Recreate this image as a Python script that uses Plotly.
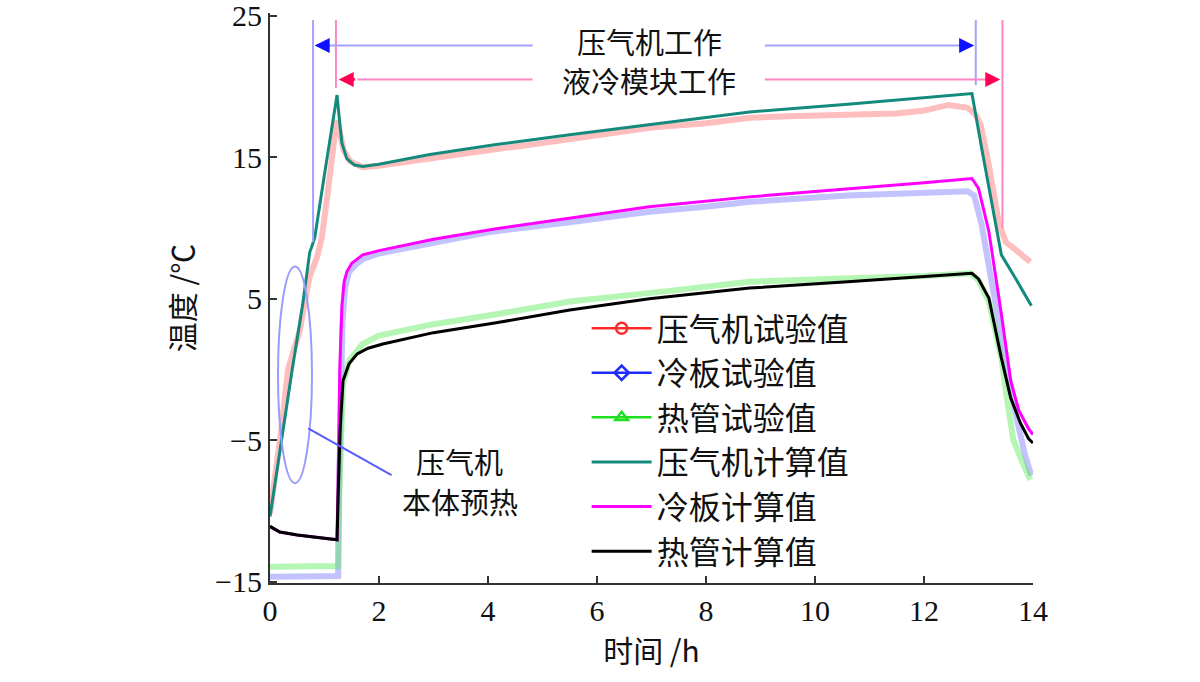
import plotly.graph_objects as go

# ---------------- data (time in h, temperature in degC) ----------------
comp_test_t = [0, 0.1, 0.2, 0.33, 0.45, 0.55, 0.65, 0.73, 0.86, 0.95, 1.06, 1.15, 1.22, 1.28, 1.35, 1.47, 1.7, 2.0, 3.0, 4.0, 5.0, 6.0, 7.0, 8.0, 8.8, 9.5, 10.6, 11.5, 12.0, 12.45, 12.8, 12.95, 13.04, 13.19, 13.37, 13.5, 13.7, 13.95]
comp_test_v = [-10.2, -7.5, -4.5, 0.0, 1.5, 2.8, 5.0, 6.6, 7.9, 9.3, 12.5, 15.5, 17.6, 16.8, 15.5, 14.7, 14.3, 14.4, 15.0, 15.5, 16.0, 16.6, 17.1, 17.4, 17.8, 17.9, 18.0, 18.1, 18.3, 18.7, 18.5, 18.0, 17.3, 14.45, 10.4, 9.0, 8.4, 7.6]

plate_test_t = [0, 0.6, 1.25, 1.27, 1.3, 1.33, 1.38, 1.45, 1.6, 1.7, 2.0, 3.0, 4.0, 5.5, 6.96, 8.0, 8.8, 10.6, 12.0, 12.8, 12.92, 13.06, 13.24, 13.46, 13.68, 13.85, 13.97]
plate_test_v = [-14.65, -14.65, -14.6, -8.0, -2.0, 3.3, 5.8, 6.9, 7.5, 7.8, 8.2, 9.0, 9.7, 10.4, 11.15, 11.5, 11.85, 12.3, 12.5, 12.6, 12.3, 10.2, 6.2, 1.5, -3.1, -6.0, -7.5]

pipe_test_t = [0, 0.6, 1.25, 1.27, 1.3, 1.34, 1.45, 1.6, 1.7, 2.0, 3.0, 4.15, 5.5, 7.2, 8.8, 10.6, 12.0, 12.85, 13.0, 13.19, 13.42, 13.5, 13.64, 13.8, 13.95]
pipe_test_v = [-13.95, -13.95, -13.9, -9.0, -4.0, -1.0, 0.6, 1.4, 1.8, 2.4, 3.2, 3.9, 4.8, 5.5, 6.2, 6.45, 6.6, 6.8, 6.3, 4.8, 0.8, -1.5, -5.0, -6.5, -7.8]

comp_calc_t = [0, 0.2, 0.4, 0.6, 0.73, 0.76, 0.82, 1.0, 1.15, 1.23, 1.27, 1.32, 1.41, 1.55, 1.7, 2.0, 2.93, 4.15, 5.5, 6.96, 8.8, 10.6, 12.0, 12.88, 13.06, 13.25, 13.42, 13.7, 13.97]
comp_calc_v = [-10.4, -5.2, -0.2, 4.6, 8.3, 8.6, 9.3, 13.8, 17.4, 19.4, 17.8, 16.0, 14.9, 14.45, 14.35, 14.5, 15.2, 15.9, 16.6, 17.3, 18.2, 18.75, 19.2, 19.5, 15.6, 11.5, 8.1, 6.3, 4.5]

plate_calc_t = [0, 0.18, 0.5, 0.73, 1.0, 1.23, 1.25, 1.28, 1.32, 1.36, 1.41, 1.5, 1.6, 1.7, 2.0, 3.0, 4.15, 5.5, 6.96, 8.8, 10.6, 12.0, 12.88, 13.0, 13.19, 13.42, 13.59, 13.74, 13.92, 14.0]
plate_calc_v = [-11.1, -11.5, -11.7, -11.8, -11.95, -12.05, -8.0, 0.0, 4.5, 6.2, 6.9, 7.5, 7.8, 8.1, 8.4, 9.2, 9.95, 10.7, 11.5, 12.2, 12.75, 13.2, 13.5, 12.8, 9.75, 3.9, -0.8, -2.9, -4.2, -4.6]

pipe_calc_t = [0, 0.18, 0.5, 0.73, 1.0, 1.23, 1.25, 1.29, 1.34, 1.45, 1.6, 1.8, 2.07, 3.0, 4.15, 5.5, 6.96, 8.8, 10.6, 12.0, 12.88, 13.0, 13.19, 13.42, 13.59, 13.77, 13.92, 14.0]
pipe_calc_v = [-11.1, -11.5, -11.7, -11.8, -11.95, -12.05, -9.0, -4.0, -0.8, 0.4, 1.1, 1.5, 1.8, 2.6, 3.3, 4.2, 5.0, 5.75, 6.2, 6.55, 6.8, 6.4, 5.05, 0.8, -2.0, -3.8, -4.9, -5.2]

names = ["压气机试验值", "冷板试验值", "热管试验值", "压气机计算值", "冷板计算值", "热管计算值"]
x_ticks = [0, 2, 4, 6, 8, 10, 12, 14]
y_ticks = [-15, -5, 5, 15, 25]

CJK = "Noto Sans CJK SC"
SERIF = "Liberation Serif"

fig = go.Figure()

# test data (faded bands)
for t, v, col in [(comp_test_t, comp_test_v, "rgba(255,110,110,0.45)"),
                  (plate_test_t, plate_test_v, "rgba(120,120,255,0.45)"),
                  (pipe_test_t, pipe_test_v, "rgba(90,235,90,0.45)")]:
    fig.add_trace(go.Scatter(x=t, y=v, mode="lines", line=dict(color=col, width=6),
                             showlegend=False, hoverinfo="skip"))

# legend entries for test data
for name, col, sym in [(names[0], "#ff2a2a", "circle-open"),
                       (names[1], "#1f2bff", "diamond-open"),
                       (names[2], "#1ee01e", "triangle-up-open")]:
    fig.add_trace(go.Scatter(x=[None], y=[None], mode="lines+markers", name=name,
                             line=dict(color=col, width=2.5),
                             marker=dict(symbol=sym, size=11, color=col, line=dict(width=2.5, color=col))))

# calculated values
fig.add_trace(go.Scatter(x=comp_calc_t, y=comp_calc_v, mode="lines", name=names[3],
                         line=dict(color="#148a7c", width=3)))
fig.add_trace(go.Scatter(x=plate_calc_t, y=plate_calc_v, mode="lines", name=names[4],
                         line=dict(color="#ff00ff", width=3)))
fig.add_trace(go.Scatter(x=pipe_calc_t, y=pipe_calc_v, mode="lines", name=names[5],
                         line=dict(color="#000000", width=3)))

LB = "#a3a3ff"
DB = "#1010ff"
LP = "#ff86c4"
DP = "#ff0055"
shapes = [
    # vertical markers
    dict(type="line", x0=0.79, x1=0.79, y0=24.7, y1=9.0, line=dict(color=LB, width=2)),
    dict(type="line", x0=1.21, x1=1.21, y0=24.7, y1=19.9, line=dict(color=LP, width=2)),
    dict(type="line", x0=12.95, x1=12.95, y0=24.7, y1=20.1, line=dict(color=LB, width=2)),
    dict(type="line", x0=13.44, x1=13.44, y0=24.7, y1=10.0, line=dict(color=LP, width=2)),
    # horizontal lines
    dict(type="line", x0=0.85, x1=4.82, y0=22.9, y1=22.9, line=dict(color=LB, width=2)),
    dict(type="line", x0=9.08, x1=12.9, y0=22.9, y1=22.9, line=dict(color=LB, width=2)),
    dict(type="line", x0=1.6, x1=4.82, y0=20.5, y1=20.5, line=dict(color=LP, width=2)),
    dict(type="line", x0=9.08, x1=13.2, y0=20.5, y1=20.5, line=dict(color=LP, width=2)),
    # ellipse and leader
    dict(type="circle", x0=0.147, x1=0.77, y0=-8.04, y1=7.28, line=dict(color="#9a9aff", width=2)),
    dict(type="line", x0=0.70, x1=2.23, y0=-4.17, y1=-7.48, line=dict(color="#5a5aff", width=2)),
]

annotations = [
    dict(x=6.96, y=23.2, text="压气机工作", showarrow=False, font=dict(family=CJK, size=29, color="#111")),
    dict(x=6.96, y=20.45, text="液冷模块工作", showarrow=False, font=dict(family=CJK, size=29, color="#111")),
    dict(x=3.48, y=-6.5, text="压气机", showarrow=False, font=dict(family=CJK, size=29, color="#111")),
    dict(x=3.48, y=-9.3, text="本体预热", showarrow=False, font=dict(family=CJK, size=29, color="#111")),
    # arrowheads
    dict(x=0.82, y=22.9, ax=16, ay=0, text="", showarrow=True, arrowhead=2, arrowsize=1.2, arrowwidth=2.5, arrowcolor=DB),
    dict(x=12.92, y=22.9, ax=-16, ay=0, text="", showarrow=True, arrowhead=2, arrowsize=1.2, arrowwidth=2.5, arrowcolor=DB),
    dict(x=1.26, y=20.5, ax=18, ay=0, text="", showarrow=True, arrowhead=2, arrowsize=1.2, arrowwidth=2.5, arrowcolor=DP),
    dict(x=13.4, y=20.5, ax=-16, ay=0, text="", showarrow=True, arrowhead=2, arrowsize=1.2, arrowwidth=2.5, arrowcolor=DP),
]

fig.update_layout(
    width=1200, height=682,
    margin=dict(l=270, r=167, t=13, b=99),
    paper_bgcolor="white", plot_bgcolor="white",
    shapes=shapes, annotations=annotations,
    showlegend=True,
    legend=dict(x=0.415, y=0.495, xanchor="left", yanchor="top",
                bgcolor="rgba(0,0,0,0)", font=dict(family=CJK, size=32, color="#111"),
                itemwidth=60, tracegroupgap=0),
    xaxis=dict(range=[0, 14], tickvals=x_ticks, ticks="inside", ticklen=7, tickwidth=1.5,
               tickcolor="#333", showline=True, linecolor="#333", linewidth=2,
               showgrid=False, zeroline=False, automargin=False,
               tickfont=dict(family=SERIF, size=30, color="#111"),
               title=dict(text="时间 /h", font=dict(family=CJK, size=30, color="#111"), standoff=14)),
    yaxis=dict(range=[-15.1, 25.2], tickvals=y_ticks, ticks="inside", ticklen=7, tickwidth=1.5,
               tickcolor="#333", showline=True, linecolor="#333", linewidth=2,
               showgrid=False, zeroline=False, ticklabeloverflow="allow", automargin=False,
               tickfont=dict(family=SERIF, size=30, color="#111"),
               title=dict(text="温度 /℃", font=dict(family=CJK, size=30, color="#111"), standoff=12)),
)

fig.write_html("out.html")
